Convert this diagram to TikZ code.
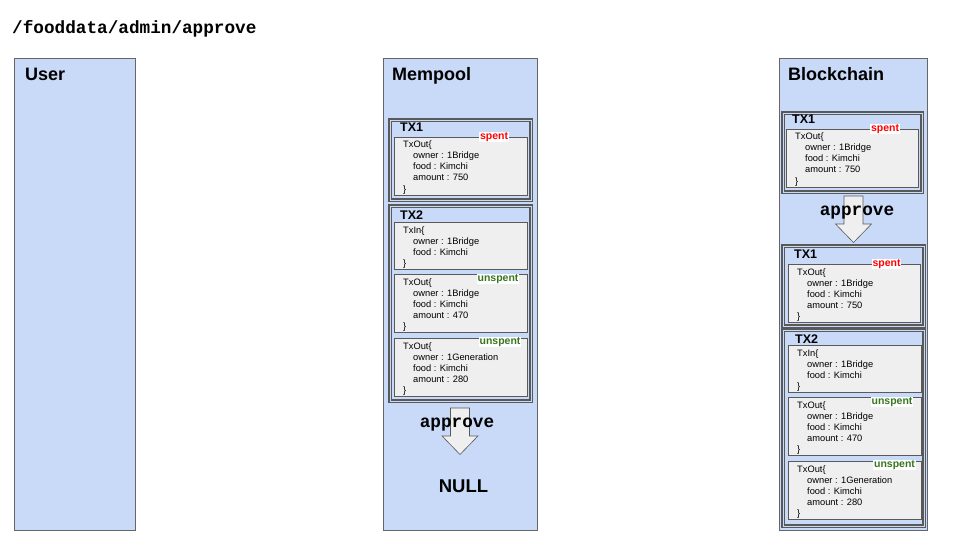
\documentclass[tikz,border=0pt]{standalone}
\usepackage{fontspec}
\setmainfont{Liberation Sans}
\setmonofont{Liberation Mono}
\definecolor{panelblue}{HTML}{C9DAF8}
\definecolor{panelline}{HTML}{666666}
\definecolor{txline}{HTML}{595959}
\definecolor{iofill}{HTML}{EFEFEF}
\definecolor{spentred}{HTML}{FF0000}
\definecolor{unspentgreen}{HTML}{38761D}
\tikzset{
  panel/.style={draw=panelline, fill=panelblue, line width=0.8pt, inner sep=0pt, outer sep=0pt, anchor=north west},
  ptitle/.style={font=\bfseries\fontsize{18}{20}\selectfont, inner sep=0pt, anchor=base west},
  txbox/.style={draw=txline, double=panelblue, line width=1.1pt, double distance=0.9pt, inner sep=0pt, outer sep=0pt, anchor=north west},
  txlabel/.style={font=\bfseries\fontsize{12.5}{14}\selectfont, inner sep=0pt, anchor=base west},
  iobox/.style={draw=txline, fill=iofill, line width=0.6pt, inner sep=0pt, outer sep=0pt},
  iotext/.style={font=\fontsize{9.3}{11}\selectfont, align=left, inner sep=0pt},
  spentlbl/.style={font=\bfseries\fontsize{10.5}{12}\selectfont, text=spentred, fill=white, inner sep=0.8pt},
  unspentlbl/.style={font=\bfseries\fontsize{10.5}{12}\selectfont, text=unspentgreen, fill=white, inner sep=0.8pt},
  blockarrow/.style={draw=txline, fill=iofill, line width=0.6pt, line join=miter},
  approvelbl/.style={font=\ttfamily\bfseries\fontsize{17.7}{20}\selectfont, inner sep=0pt, anchor=base},
}
% name, x, y, width, height, shift of last baseline, text
\newcommand{\ioBlock}[7]{%
  \node[iobox, minimum width=#4pt, minimum height=#5pt, anchor=north west] (#1) at (#2,#3) {};
  \node[iotext, anchor=base west] (#1-t) at ([xshift=9pt,yshift=-#6pt]#1.north west) {#7};
}
\newcommand{\txOutText}[2]{TxOut\{\\\hspace*{10pt}owner : #1\\\hspace*{10pt}food : Kimchi\\\hspace*{10pt}amount : #2\\\}}
\newcommand{\txInText}{TxIn\{\\\hspace*{10pt}owner : 1Bridge\\\hspace*{10pt}food : Kimchi\\\}}
\newcommand{\blockArrowAt}[1]{%
  \draw[blockarrow] ([xshift=-9.5pt]#1) -- ([xshift=9.5pt]#1) -- ([xshift=9.5pt,yshift=-28pt]#1)
    -- ([xshift=18pt,yshift=-28pt]#1) -- ([yshift=-46.5pt]#1) -- ([xshift=-18pt,yshift=-28pt]#1)
    -- ([xshift=-9.5pt,yshift=-28pt]#1) -- cycle;
}
\begin{document}
\begin{tikzpicture}[x=1pt,y=-1pt]
\useasboundingbox (0,0) rectangle (960,540);
% title
\node[font=\ttfamily\bfseries\fontsize{17.7}{20}\selectfont, inner sep=0pt, anchor=base west] (title) at (12,34) {/fooddata/admin/approve};

% panels
\node[panel, minimum width=121pt, minimum height=472pt] (user) at (14,58) {};
\node[ptitle] (userT) at (25,81) {User};
\node[panel, minimum width=154pt, minimum height=472pt] (mempool) at (383,58) {};
\node[ptitle] (mempoolT) at (392,81) {Mempool};
\node[panel, minimum width=148pt, minimum height=472pt] (chain) at (779,58) {};
\node[ptitle] (chainT) at (788,81) {Blockchain};

% ---------- Mempool ----------
\node[txbox, minimum width=141pt, minimum height=80pt] (mTX1) at (390,120) {};
\node[txlabel] (mTX1l) at (400,132) {TX1};
\ioBlock{mTX1o}{394}{137}{133}{58}{55}{\txOutText{1Bridge}{750}}
\node[spentlbl] (mTX1s) at (494,137) {spent};

\node[txbox, minimum width=141pt, minimum height=195pt] (mTX2) at (390,206) {};
\node[txlabel] (mTX2l) at (400,219) {TX2};
\ioBlock{mTX2i}{394}{222}{133}{47}{44}{\txInText}
\ioBlock{mTX2a}{394}{274}{133}{58}{55}{\txOutText{1Bridge}{470}}
\node[unspentlbl] (mTX2as) at (498,279) {unspent};
\ioBlock{mTX2b}{394}{338}{133}{58}{55}{\txOutText{1Generation}{280}}
\node[unspentlbl] (mTX2bs) at (500,342) {unspent};

\coordinate (mArrow) at (460,408);
\blockArrowAt{mArrow}
\node[approvelbl] (mApprove) at (457,427) {approve};
\node[font=\bfseries\fontsize{18.5}{20}\selectfont, inner sep=0pt, anchor=base] (null) at (463.5,492) {NULL};

% ---------- Blockchain ----------
\node[txbox, minimum width=139pt, minimum height=79pt] (bTX1) at (783,113) {};
\node[txlabel] (bTX1l) at (792,124) {TX1};
\ioBlock{bTX1o}{786}{129}{132}{58}{55}{\txOutText{1Bridge}{750}}
\node[spentlbl] (bTX1s) at (885,129) {spent};

\coordinate (bArrow) at (853.5,196);
\blockArrowAt{bArrow}
\node[approvelbl] (bApprove) at (857,215) {approve};

\node[txbox, minimum width=141pt, minimum height=80pt] (bTX1b) at (783,246) {};
\node[txlabel] (bTX1bl) at (794,258) {TX1};
\ioBlock{bTX1bo}{788}{264}{132}{58}{55}{\txOutText{1Bridge}{750}}
\node[spentlbl] (bTX1bs) at (886.5,264) {spent};

\node[txbox, minimum width=141pt, minimum height=196pt] (bTX2) at (783,330) {};
\node[txlabel] (bTX2l) at (795,343) {TX2};
\ioBlock{bTX2i}{788}{345}{133}{47}{44}{\txInText}
\ioBlock{bTX2a}{788}{397}{133}{58}{55}{\txOutText{1Bridge}{470}}
\node[unspentlbl] (bTX2as) at (892,402) {unspent};
\ioBlock{bTX2b}{788}{461}{133}{58}{55}{\txOutText{1Generation}{280}}
\node[unspentlbl] (bTX2bs) at (894.5,465) {unspent};
\end{tikzpicture}
\end{document}
